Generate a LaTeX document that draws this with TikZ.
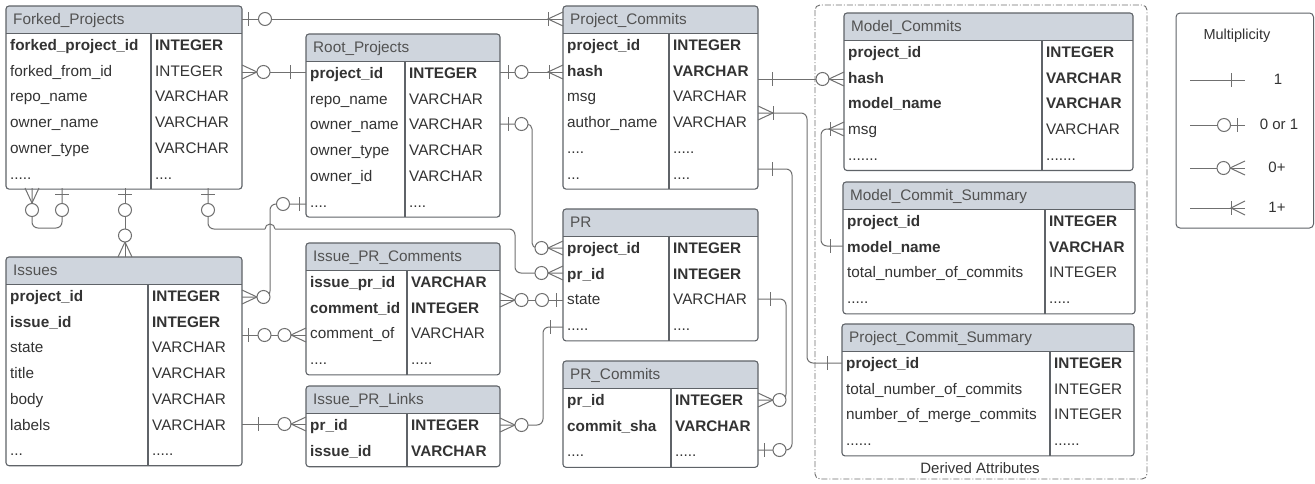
\documentclass[tikz,border=0pt]{standalone}
\usepackage{fontspec}
\setmainfont{Liberation Sans}
\usetikzlibrary{calc}
\definecolor{hdr}{HTML}{CFD5DD}
\definecolor{bord}{HTML}{5F6368}
\definecolor{lnk}{HTML}{707070}
\definecolor{txt}{HTML}{333333}
\tikzset{
 fn/.style={anchor=west, inner sep=0pt, text height=11pt, text depth=3pt, text=txt, font=\fontsize{15.3}{18}\selectfont},
 fb/.style={fn, font=\fontsize{15.3}{18}\selectfont\bfseries},
 ttl/.style={anchor=west, inner sep=0pt, text height=11pt, text depth=3pt, text=txt!85, font=\fontsize{15.3}{18}\selectfont},
 lbl/.style={anchor=center, inner sep=0pt, text height=11pt, text depth=3pt, text=txt, font=\fontsize{15}{18}\selectfont},
 tabline/.style={draw=bord, line width=1.1pt},
 lk/.style={draw=lnk, line width=1pt},
 circ/.style={draw=lnk, fill=white, line width=1pt},
}
\newcommand\erdots[1]{\ifcase#1\or.\or..\or...\or....\or.....\or......\or.......\fi}
\newcommand\ertab[8]{%
 \pgfmathsetmacro\erhb{#4+27.5}%
 \pgfmathsetmacro\erbt{\erhb+#7*25.6+2}%
 \fill[hdr] (#3,\erhb) [rounded corners=3pt] -- (#3,#4) -- (#6,#4) [sharp corners] -- (#6,\erhb) -- cycle;
 \draw[tabline] (#3,\erhb) -- (#6,\erhb);
 \draw[tabline] (#5,\erhb) -- (#5,\erbt);
 \draw[tabline, rounded corners=3pt] (#3,#4) rectangle (#6,\erbt);
 \node[ttl] (#1) at (#3+7,#4+14) {#2};
 \foreach[count=\ri] \ra/\rb/\rs in {#8} {
  \node[\rs] (#1-\ri) at (#3+4,\erhb+12.8+\ri*25.75-25.75) {\ra};
  \node[\rs] (#1-\ri t) at (#5+4,\erhb+12.8+\ri*25.75-25.75) {\rb};
 }%
}
\newcommand\tickv[2]{\draw[lk] (#1,#2-7) -- (#1,#2+7);}
\newcommand\tickh[2]{\draw[lk] (#1-7,#2) -- (#1+7,#2);}
\newcommand\crowR[2]{\draw[lk] (#1,#2-7) -- (#1+15,#2) -- (#1,#2+7);}
\newcommand\crowL[2]{\draw[lk] (#1,#2-7) -- (#1-15,#2) -- (#1,#2+7);}
\newcommand\circl[2]{\draw[circ] (#1,#2) circle[radius=6.5pt];}
\begin{document}
\begin{tikzpicture}[x=1pt,y=-1pt]
\fill[white] (0,0) rectangle (1315,483);
\useasboundingbox (0,0) rectangle (1315,483);

% derived attributes box
\draw[lnk, line width=0.9pt, dash pattern=on 6pt off 2pt on 1pt off 2pt, rounded corners=5pt] (815,5) rectangle (1147,479);
\node[lbl] (derived) at (980,469) {Derived Attributes};

% tables
\ertab{fp}{Forked\_Projects}{6}{6}{151}{242}{6}{forked\_project\_id/INTEGER/fb, forked\_from\_id/INTEGER/fn, repo\_name/VARCHAR/fn, owner\_name/VARCHAR/fn, owner\_type/VARCHAR/fn, \erdots{5}/\erdots{4}/fn}
\ertab{rp}{Root\_Projects}{306}{34}{405}{500}{6}{project\_id/INTEGER/fb, repo\_name/VARCHAR/fn, owner\_name/VARCHAR/fn, owner\_type/VARCHAR/fn, owner\_id/VARCHAR/fn, \erdots{4}/\erdots{4}/fn}
\ertab{pc}{Project\_Commits}{563}{6}{669}{758}{6}{project\_id/INTEGER/fb, hash/VARCHAR/fb, msg/VARCHAR/fn, author\_name/VARCHAR/fn, \erdots{4}/\erdots{5}/fn, \erdots{3}/\erdots{4}/fn}
\ertab{mc}{Model\_Commits}{844}{13}{1042}{1133}{5}{project\_id/INTEGER/fb, hash/VARCHAR/fb, model\_name/VARCHAR/fb, msg/VARCHAR/fn, \erdots{7}/\erdots{7}/fn}
\ertab{mcs}{Model\_Commit\_Summary}{843}{182}{1045}{1135}{4}{project\_id/INTEGER/fb, model\_name/VARCHAR/fb, total\_number\_of\_commits/INTEGER/fn, \erdots{5}/\erdots{5}/fn}
\ertab{pcs}{Project\_Commit\_Summary}{842}{324}{1050}{1134}{4}{project\_id/INTEGER/fb, total\_number\_of\_commits/INTEGER/fn, number\_of\_merge\_commits/INTEGER/fn, \erdots{6}/\erdots{6}/fn}
\ertab{is}{Issues}{6}{257}{148}{242}{7}{project\_id/INTEGER/fb, issue\_id/INTEGER/fb, state/VARCHAR/fn, title/VARCHAR/fn, body/VARCHAR/fn, labels/VARCHAR/fn, \erdots{3}/\erdots{5}/fn}
\ertab{ic}{Issue\_PR\_Comments}{306}{243}{407}{500}{4}{issue\_pr\_id/VARCHAR/fb, comment\_id/INTEGER/fb, comment\_of/VARCHAR/fn, \erdots{4}/\erdots{5}/fn}
\ertab{il}{Issue\_PR\_Links}{306}{386}{407}{500}{2}{pr\_id/INTEGER/fb, issue\_id/VARCHAR/fb}
\ertab{pr}{PR}{563}{209}{669}{758}{4}{project\_id/INTEGER/fb, pr\_id/INTEGER/fb, state/VARCHAR/fn, \erdots{5}/\erdots{4}/fn}
\ertab{prc}{PR\_Commits}{563}{361}{671}{758}{3}{pr\_id/INTEGER/fb, commit\_sha/VARCHAR/fb, \erdots{4}/\erdots{5}/fn}

% C1 Forked -> Project_Commits
\draw[lk] (242,19) -- (563,19);
\tickv{248}{19} \circl{265}{19} \tickv{548}{19} \crowL{563}{19}
% C2 Forked forked_from_id -> Root project_id
\draw[lk] (242,72) -- (306,72);
\crowR{242}{72} \circl{263.5}{72} \tickv{290}{72}
% C3 Root -> Project_Commits hash
\draw[lk] (500,72) -- (563,72);
\tickv{508}{72} \circl{521.5}{72} \tickv{549}{72} \crowL{563}{72}
% C4 Root owner_name -> PR project_id
\draw[lk, rounded corners=5pt] (500,124) -- (532,124) -- (532,248) -- (563,248);
\tickv{508}{124} \circl{521.5}{124} \circl{541.5}{248} \crowL{563}{248}
% C5 Forked bottom -> PR pr_id (with hop)
\draw[lk, rounded corners=6pt] (208,188) -- (208,229) -- (265,229);
\draw[lk] (265,229) arc[start angle=180, end angle=0, radius=5pt];
\draw[lk, rounded corners=6pt] (275,229) -- (515,229) -- (515,273) -- (563,273);
\tickh{208}{194} \circl{208}{210} \circl{541.5}{273} \crowL{563}{273}
% C6 Forked self relation
\draw[lk, rounded corners=6pt] (32,188) -- (32,228) -- (62,228) -- (62,188);
\draw[lk] (25,188) -- (32,203) -- (39,188);
\circl{32}{210} \tickh{62}{194} \circl{62}{210}
% C7 Forked -> Issues
\draw[lk] (125,188) -- (125,257);
\draw[lk] (118,257) -- (125,242) -- (132,257);
\tickh{125}{194} \circl{125}{210} \circl{125}{235.5}
% C8 Issues project_id -> Root
\draw[lk, rounded corners=6pt] (242,297) -- (270,297) -- (270,204) -- (306,204);
\crowR{242}{297} \circl{263.5}{297} \circl{283}{204} \tickv{299}{204}
% C9 Issues issue_id -> Issue_PR_Comments comment_of
\draw[lk] (242,335) -- (306,335);
\tickv{248}{335} \circl{264.5}{335} \circl{284.5}{335} \crowL{306}{335}
% C10 Issues labels -> Issue_PR_Links pr_id
\draw[lk] (242,424) -- (306,424);
\tickv{258}{424} \circl{284.5}{424} \crowL{306}{424}
% C11 Issue_PR_Comments comment_id -> PR state
\draw[lk] (500,300) -- (563,300);
\crowR{500}{300} \circl{521.5}{300} \circl{542}{300} \tickv{556}{300}
% C12 Issue_PR_Links pr_id -> PR .....
\draw[lk, rounded corners=6pt] (500,425) -- (543,425) -- (543,327) -- (563,327);
\crowR{500}{425} \circl{521.5}{425} \tickv{550}{327}
% C13 PR state -> PR_Commits pr_id
\draw[lk, rounded corners=6pt] (758,299) -- (786,299) -- (786,400) -- (758,400);
\tickv{770}{299} \crowR{758}{400} \circl{779.5}{400}
% C14 Project_Commits ... -> PR_Commits ....
\draw[lk, rounded corners=6pt] (758,169) -- (792,169) -- (792,450) -- (758,450);
\tickv{772}{169} \tickv{764}{450} \circl{779.5}{450}
% C15 Project_Commits hash -> Model_Commits hash
\draw[lk] (758,79) -- (844,79);
\tickv{772}{79} \circl{822.5}{79} \crowL{844}{79}
% C16 Project_Commits -> Project_Commit_Summary
\draw[lk, rounded corners=6pt] (758,113) -- (807,113) -- (807,363) -- (842,363);
\crowR{758}{113} \tickv{773}{113} \tickv{827}{363}
% C17 Model_Commits msg -> Model_Commit_Summary model_name
\draw[lk, rounded corners=6pt] (844,129) -- (821,129) -- (821,246) -- (843,246);
\crowL{844}{129} \tickv{830}{129} \tickv{830}{246}

% legend
\draw[tabline, line width=1pt, rounded corners=4pt] (1176,13) rectangle (1313.5,228);
\node[lbl, font=\fontsize{14.5}{17}\selectfont] (multi) at (1237,35) {Multiplicity};
\draw[lk] (1190,80) -- (1245,80); \tickv{1231}{80}
\node[lbl] (l1) at (1278,80) {1};
\draw[lk] (1190,125) -- (1245,125); \circl{1224}{125} \tickv{1237}{125}
\node[lbl] (l2) at (1279,125) {0 or 1};
\draw[lk] (1190,168) -- (1245,168); \draw[lk] (1245,161) -- (1230,168) -- (1245,175); \circl{1223.5}{168}
\node[lbl] (l3) at (1277,168) {0+};
\draw[lk] (1190,208) -- (1245,208); \draw[lk] (1245,201) -- (1231,208) -- (1245,215); \tickv{1231}{208}
\node[lbl] (l4) at (1277,208) {1+};
\end{tikzpicture}
\end{document}
